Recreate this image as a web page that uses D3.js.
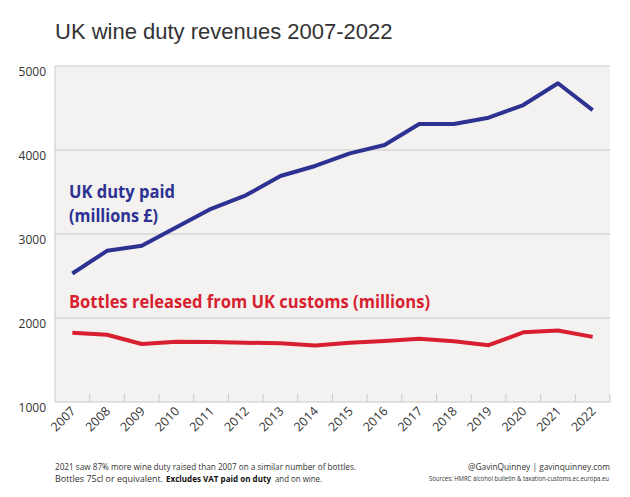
<!DOCTYPE html>
<html>
<head>
<meta charset="utf-8">
<script src="https://cdn.jsdelivr.net/npm/d3@7"></script>
<style>
  body { margin: 0; background: #fff; }
  svg { display: block; }
</style>
</head>
<body>
<div id="chart"></div>
<script>
var years = ["2007", "2008", "2009", "2010", "2011", "2012", "2013", "2014",
             "2015", "2016", "2017", "2018", "2019", "2020", "2021", "2022"];
var dutyPaid = [2530, 2800, 2860, 3080, 3300, 3460, 3690, 3810,
                3960, 4060, 4310, 4310, 4385, 4535, 4795, 4475];
var bottles = [1825, 1800, 1690, 1718, 1714, 1706, 1698, 1672,
               1706, 1726, 1754, 1722, 1676, 1829, 1852, 1775];
var yTicks = [1000, 2000, 3000, 4000, 5000];

var W = 630, H = 497;
var margin = {top: 66, right: 20, bottom: 95, left: 55},
    width = W - margin.left - margin.right,
    height = H - margin.top - margin.bottom;

var svg = d3.select("#chart").append("svg")
    .attr("width", W)
    .attr("height", H);

// title
svg.append("text")
    .attr("x", 55)
    .attr("y", 39)
    .style("font-family", "'Liberation Sans', Arial, sans-serif")
    .style("font-size", "22px")
    .style("fill", "#333")
    .text("UK wine duty revenues 2007-2022");

var g = svg.append("g")
    .attr("transform", "translate(" + margin.left + "," + margin.top + ")");

var x = d3.scaleBand()
    .domain(years)
    .range([0, width]);

var y = d3.scaleLinear()
    .domain([1000, 5000])
    .range([height, 0]);

g.append("rect")
    .attr("width", width)
    .attr("height", height)
    .style("fill", "#f3f2f0");

// gridlines
g.selectAll(".grid")
    .data(yTicks)
  .enter().append("line")
    .attr("class", "grid")
    .attr("x1", 0)
    .attr("x2", width)
    .attr("y1", function(d) { return y(d); })
    .attr("y2", function(d) { return y(d); })
    .style("stroke", "#c9c9c9")
    .style("stroke-width", "1px");

// left axis line
g.append("line")
    .attr("x1", 0).attr("x2", 0)
    .attr("y1", 0).attr("y2", height)
    .style("stroke", "#c9c9c9");

// y labels
g.selectAll(".ylab")
    .data(yTicks)
  .enter().append("text")
    .attr("class", "ylab")
    .attr("x", -9)
    .attr("y", function(d) { return y(d) + 10; })
    .attr("text-anchor", "end")
    .style("font-family", "'Open Sans', sans-serif")
    .style("font-size", "12px")
    .style("fill", "#333")
    .text(function(d) { return d; });

// x ticks at band boundaries
var bounds = years.slice(1).map(function(d) { return x(d); }).concat([width]);
g.selectAll(".xtick")
    .data(bounds)
  .enter().append("line")
    .attr("class", "xtick")
    .attr("x1", function(d) { return d; })
    .attr("x2", function(d) { return d; })
    .attr("y1", height)
    .attr("y2", height - 8)
    .style("stroke", "#c9c9c9");

g.selectAll(".xlab")
    .data(years)
  .enter().append("text")
    .attr("class", "xlab")
    .attr("text-anchor", "end")
    .attr("transform", function(d) {
        return "translate(" + (x(d) + x.bandwidth() / 2 + 4) + "," + (height + 10) + ") rotate(-45)";
    })
    .style("font-family", "'Open Sans', sans-serif")
    .style("font-size", "12.5px")
    .style("fill", "#333")
    .text(function(d) { return d; });

var line = d3.line()
    .x(function(d, i) { return x(years[i]) + x.bandwidth() / 2; })
    .y(function(d) { return y(d); });

g.append("path")
    .datum(bottles)
    .attr("d", line)
    .style("fill", "none")
    .style("stroke", "#d71f30")
    .style("stroke-width", "4px")
    .style("stroke-linejoin", "round");

g.append("path")
    .datum(dutyPaid)
    .attr("d", line)
    .style("fill", "none")
    .style("stroke", "#2d3192")
    .style("stroke-width", "4px")
    .style("stroke-linejoin", "round");

// series labels
var lab = svg.append("g")
    .style("font-family", "'Open Sans', sans-serif")
    .style("font-weight", "bold")
    .style("font-size", "17px");

lab.append("text").attr("x", 69).attr("y", 198)
    .attr("textLength", 106).attr("lengthAdjust", "spacingAndGlyphs")
    .style("fill", "#2d3192").text("UK duty paid");
lab.append("text").attr("x", 69).attr("y", 222)
    .attr("textLength", 89).attr("lengthAdjust", "spacingAndGlyphs")
    .style("fill", "#2d3192").text("(millions £)");
lab.append("text").attr("x", 69).attr("y", 308)
    .attr("textLength", 361).attr("lengthAdjust", "spacingAndGlyphs")
    .style("fill", "#d71f30").text("Bottles released from UK customs (millions)");

// footer
var foot = svg.append("g")
    .style("font-family", "'Open Sans', sans-serif")
    .style("font-size", "9.5px")
    .style("fill", "#333");

foot.append("text").attr("x", 55).attr("y", 470)
    .attr("textLength", 301).attr("lengthAdjust", "spacingAndGlyphs")
    .text("2021 saw 87% more wine duty raised than 2007 on a similar number of bottles.");

// second line in three pieces
foot.append("text").attr("x", 55).attr("y", 482)
    .attr("textLength", 108).attr("lengthAdjust", "spacingAndGlyphs")
    .text("Bottles 75cl or equivalent.");
foot.append("text").attr("x", 166).attr("y", 482)
    .attr("textLength", 105).attr("lengthAdjust", "spacingAndGlyphs")
    .style("font-weight", "bold").style("font-size", "8.2px").style("fill", "#111")
    .text("Excludes VAT paid on duty");
foot.append("text").attr("x", 275).attr("y", 482)
    .attr("textLength", 47).attr("lengthAdjust", "spacingAndGlyphs")
    .text("and on wine.");

foot.append("text").attr("x", 610).attr("y", 470)
    .attr("text-anchor", "end")
    .attr("textLength", 142).attr("lengthAdjust", "spacingAndGlyphs")
    .text("@GavinQuinney |  gavinquinney.com");

foot.append("text").attr("x", 609).attr("y", 481)
    .attr("text-anchor", "end")
    .attr("textLength", 180).attr("lengthAdjust", "spacingAndGlyphs")
    .style("font-size", "6.5px")
    .text("Sources: HMRC alcohol bulletin & taxation-customs.ec.europa.eu");
</script>
</body>
</html>
